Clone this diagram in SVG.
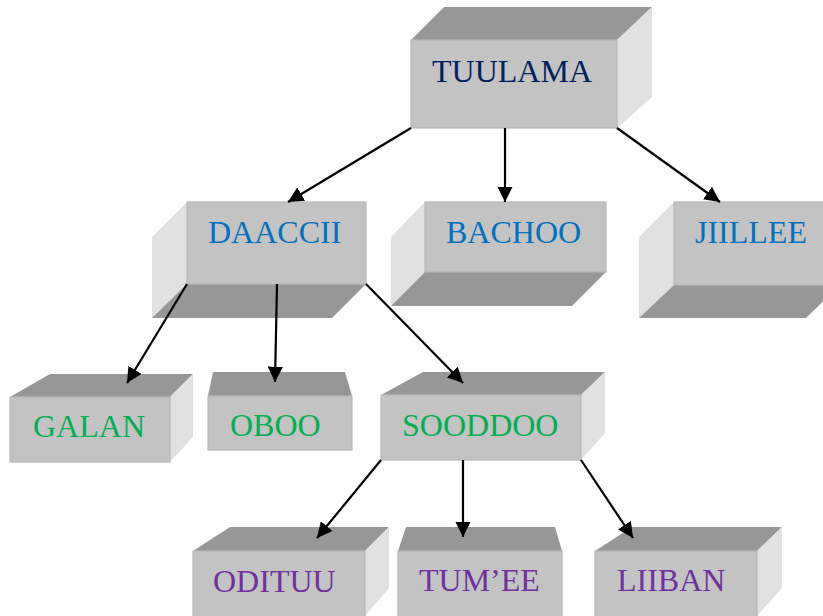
<svg xmlns="http://www.w3.org/2000/svg" width="823" height="616" viewBox="0 0 823 616">
<defs>
<style>
.front{fill:#c3c3c3;stroke:#b8b8b8;stroke-width:1.2}
.dark{fill:#979797}
.light{fill:#e1e1e1}
.lbl{font-family:"Liberation Serif","Times New Roman",serif;font-size:32px}
.navy{fill:#002060}.blue{fill:#0070c0}.green{fill:#00b050}.purple{fill:#7030a0}
.conn line{stroke:#000;stroke-width:2.2;marker-end:url(#ah)}
</style>
<marker id="ah" viewBox="0 0 10 10" refX="10" refY="5" markerWidth="7" markerHeight="7" markerUnits="strokeWidth" orient="auto">
<path d="M0,0 L10,5 L0,10 z" fill="#000"/>
</marker>
</defs>
<rect width="823" height="616" fill="#fff"/>

<g id="tuulama">
<polygon class="dark" points="411,40 444,7 652,7 617,40"/>
<polygon class="light" points="617,40 652,7 652,97 617,128"/>
<rect class="front" x="411" y="40" width="206" height="88"/>
<text class="lbl navy" x="432" y="82">TUULAMA</text>
</g>

<g id="daaccii">
<polygon class="light" points="187,202 152,237 152,318 187,284"/>
<polygon class="dark" points="187,284 366,284 332,318 152,318"/>
<rect class="front" x="187" y="202" width="179" height="82"/>
<text class="lbl blue" x="208" y="243">DAACCII</text>
</g>

<g id="bachoo">
<polygon class="light" points="425,202 391,237 391,306 425,272"/>
<polygon class="dark" points="425,272 606,272 572,306 391,306"/>
<rect class="front" x="425" y="202" width="181" height="70"/>
<text class="lbl blue" x="446" y="243">BACHOO</text>
</g>

<g id="jiillee">
<polygon class="light" points="674,202 639,237 639,318 674,285"/>
<polygon class="dark" points="674,285 840,285 806,318 639,318"/>
<rect class="front" x="674" y="202" width="166" height="83"/>
<text class="lbl blue" x="695" y="243">JIILLEE</text>
</g>

<g id="galan">
<polygon class="dark" points="10,397 50,374 193,374 170,397"/>
<polygon class="light" points="170,397 193,374 193,437 170,462"/>
<rect class="front" x="10" y="397" width="160" height="65"/>
<text class="lbl green" x="33" y="437">GALAN</text>
</g>

<g id="oboo">
<polygon class="dark" points="208,396 213,372 345,372 352,396"/>
<rect class="front" x="208" y="396" width="144" height="54"/>
<text class="lbl green" x="230" y="436">OBOO</text>
</g>

<g id="sooddoo">
<polygon class="dark" points="381,395 423,372 605,372 581,395"/>
<polygon class="light" points="581,395 605,372 605,433 581,460"/>
<rect class="front" x="381" y="395" width="200" height="65"/>
<text class="lbl green" x="402" y="436">SOODDOO</text>
</g>

<g id="odituu">
<polygon class="dark" points="193,551 230,527 389,527 365,551"/>
<polygon class="light" points="365,551 389,527 389,588 365,616"/>
<rect class="front" x="193" y="551" width="172" height="66"/>
<text class="lbl purple" x="213" y="592">ODITUU</text>
</g>

<g id="tumee">
<polygon class="dark" points="398,551 406,527 555,527 562,551"/>
<rect class="front" x="398" y="551" width="164" height="66"/>
<text class="lbl purple" x="419" y="591">TUM’EE</text>
</g>

<g id="liiban">
<polygon class="dark" points="595,551 632,527 782,527 757,551"/>
<polygon class="light" points="757,551 782,527 782,588 757,616"/>
<rect class="front" x="595" y="551" width="162" height="66"/>
<text class="lbl purple" x="617" y="591">LIIBAN</text>
</g>

<g id="connectors" class="conn">
<line x1="411" y1="128" x2="288" y2="202"/>
<line x1="505" y1="128" x2="505" y2="202"/>
<line x1="617" y1="128" x2="720" y2="202"/>
<line x1="187" y1="284" x2="127" y2="383"/>
<line x1="277" y1="284" x2="275" y2="382"/>
<line x1="366" y1="284" x2="463" y2="383"/>
<line x1="381" y1="460" x2="317" y2="538"/>
<line x1="463" y1="460" x2="463" y2="537"/>
<line x1="581" y1="460" x2="633" y2="538"/>
</g>
</svg>
